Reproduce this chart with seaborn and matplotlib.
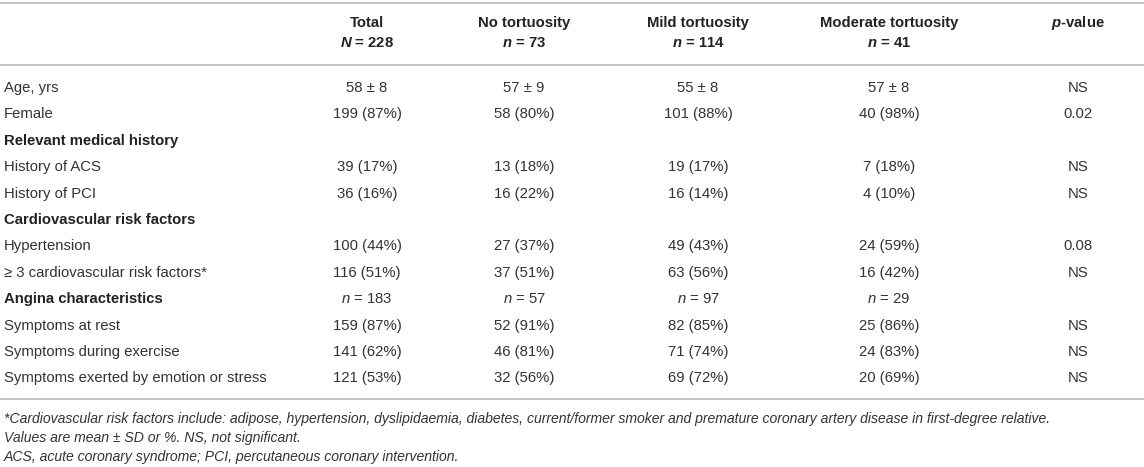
import matplotlib
matplotlib.use("Agg")
import matplotlib.pyplot as plt
import seaborn as sns

sns.set_theme(style="white")
plt.rcParams['font.family'] = ['Liberation Sans', 'DejaVu Sans']
plt.rcParams['mathtext.fontset'] = 'custom'
plt.rcParams['mathtext.rm'] = 'Liberation Sans'
plt.rcParams['mathtext.it'] = 'Liberation Sans:italic'
plt.rcParams['mathtext.bf'] = 'Liberation Sans:bold'
plt.rcParams['mathtext.bfit'] = 'Liberation Sans:italic:bold'

# ---------------- data ----------------
group_names = ["Total", "No tortuosity", "Mild tortuosity", "Moderate tortuosity"]
group_n_symbol = ["N", "n", "n", "n"]
group_n = [228, 73, 114, 41]

row_labels = [
    "Age, yrs",
    "Female",
    "Relevant medical history",
    "History of ACS",
    "History of PCI",
    "Cardiovascular risk factors",
    "Hypertension",
    "\u2265 3 cardiovascular risk factors*",
    "Angina characteristics",
    "Symptoms at rest",
    "Symptoms during exercise",
    "Symptoms exerted by emotion or stress",
]
section_rows = [2, 5, 8]

total_vals = ["58 \u00b1 8", "199 (87%)", "", "39 (17%)", "36 (16%)", "",
              "100 (44%)", "116 (51%)", "n = 183", "159 (87%)", "141 (62%)", "121 (53%)"]
none_vals = ["57 \u00b1 9", "58 (80%)", "", "13 (18%)", "16 (22%)", "",
             "27 (37%)", "37 (51%)", "n = 57", "52 (91%)", "46 (81%)", "32 (56%)"]
mild_vals = ["55 \u00b1 8", "101 (88%)", "", "19 (17%)", "16 (14%)", "",
             "49 (43%)", "63 (56%)", "n = 97", "82 (85%)", "71 (74%)", "69 (72%)"]
moderate_vals = ["57 \u00b1 8", "40 (98%)", "", "7 (18%)", "4 (10%)", "",
                 "24 (59%)", "16 (42%)", "n = 29", "25 (86%)", "24 (83%)", "20 (69%)"]
p_values = ["NS", "0.02", "", "NS", "NS", "", "0.08", "NS", "", "NS", "NS", "NS"]

footnotes = [
    "*Cardiovascular risk factors include: adipose, hypertension, dyslipidaemia, diabetes, "
    "current/former smoker and premature coronary artery disease in first-degree relative.",
    "Values are mean \u00b1 SD or %. NS, not significant.",
    "ACS, acute coronary syndrome; PCI, percutaneous coronary intervention.",
]

# ---------------- layout ----------------
W, H = 1144, 467
label_x = 4
col_x = [367, 524, 698, 889, 1078]
header_y = [23, 43]
line_ys = [3, 65, 399]
row_y0, row_step = 88, 26.4
foot_y0, foot_step = 419, 19
body_fs = 10.7
foot_fs = 10.05
body_color = "#333333"
bold_color = "#222222"
rule_color = "#c4c4c4"

fig = plt.figure(figsize=(W / 100, H / 100), dpi=100)
ax = fig.add_axes([0, 0, 1, 1])
ax.set_xlim(0, W)
ax.set_ylim(H, 0)
ax.axis("off")
sns.despine(ax=ax, left=True, bottom=True)

for y in line_ys:
    ax.axhline(y, color=rule_color, lw=1.5)

# header
for i, name in enumerate(group_names):
    ax.text(col_x[i], header_y[0], name, ha="center", va="center",
            fontsize=body_fs, fontweight="bold", color=bold_color)
    ax.text(col_x[i], header_y[1],
            r"$\mathbfit{%s}$ = %d" % (group_n_symbol[i], group_n[i]),
            ha="center", va="center", fontsize=body_fs, fontweight="bold", color=bold_color)
ax.text(col_x[4], header_y[0], r"$\mathbfit{p}$-value", ha="center", va="center",
        fontsize=body_fs, fontweight="bold", color=bold_color)


def fmt(v):
    if v.startswith("n = "):
        return r"$\mathit{n}$" + v[1:]
    return v


columns = [total_vals, none_vals, mild_vals, moderate_vals, p_values]
for r, label in enumerate(row_labels):
    y = row_y0 + r * row_step
    is_sec = r in section_rows
    ax.text(label_x, y, label, ha="left", va="center", fontsize=body_fs,
            fontweight="bold" if is_sec else "normal",
            color=bold_color if is_sec else body_color)
    for c, vals in enumerate(columns):
        v = vals[r]
        if v:
            ax.text(col_x[c], y, fmt(v), ha="center", va="center",
                    fontsize=body_fs, color=body_color)

for k, note in enumerate(footnotes):
    ax.text(label_x, foot_y0 + k * foot_step, note, ha="left", va="center",
            fontsize=foot_fs, fontstyle="italic", color=body_color)

fig.savefig("out.png", dpi=100)
